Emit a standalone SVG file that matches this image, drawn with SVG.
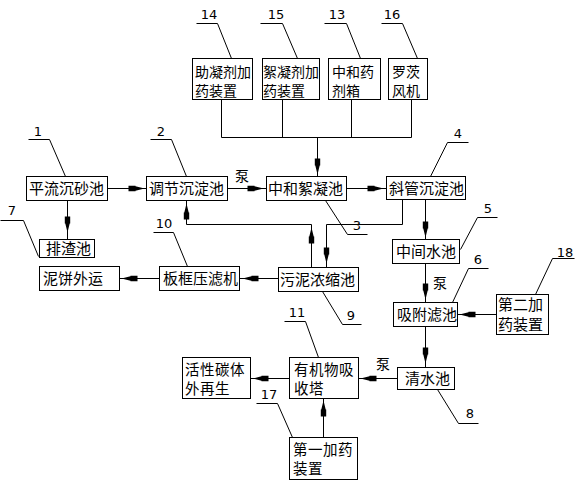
<svg xmlns="http://www.w3.org/2000/svg" xmlns:xlink="http://www.w3.org/1999/xlink" width="579" height="487" viewBox="0 0 579 487">
<style>
rect{fill:#fff;stroke:#000;stroke-width:1}
.c path,.lead path{fill:none;stroke:#000;stroke-width:1}
.t{font-family:"Noto Sans CJK SC","Noto Sans",sans-serif;font-size:15px;fill:#000}
.s{font-size:14px}
.m{font-size:14.5px;letter-spacing:0.5px}
.n{font-family:"DejaVu Sans","Liberation Sans",sans-serif;font-size:13px;fill:#000;text-anchor:middle}
.ah{fill:#000;stroke:none}
</style>
<defs>
<path id="ah" class="ah" d="M0,0 L-9,-2.2 L-9,-2.7 L-16,-2.7 L-16,2.7 L-9,2.7 L-9,2.2 Z"/>
</defs>
<rect x="0" y="0" width="579" height="487" style="stroke:none"/>
<g transform="translate(0.5 0.5)">
<g id="connectors" class="c">
<path d="M107,188 H146"/>
<path d="M67,200 V239"/>
<path d="M227,188 H266"/>
<path d="M221,99 V137 M282,99 V137 M351,99 V137 M411,99 V137 M221,137 H411 M317,137 V176"/>
<path d="M346,188 H386"/>
<path d="M425,199 V239"/>
<path d="M402,199 V224 H326 V267"/>
<path d="M311,267 V224 H186 V200"/>
<path d="M278,278 H239"/>
<path d="M159,278 H119"/>
<path d="M425,263 V302"/>
<path d="M496,314 H457"/>
<path d="M425,326 V367"/>
<path d="M397,378 H358"/>
<path d="M289,378 H250"/>
<path d="M323,437 V398"/>
<use xlink:href="#ah" transform="translate(144,188)"/>
<use xlink:href="#ah" transform="translate(263,188)"/>
<use xlink:href="#ah" transform="translate(383,188)"/>
<use xlink:href="#ah" transform="translate(317,174) rotate(90)"/>
<use xlink:href="#ah" transform="translate(67,232) rotate(90)"/>
<use xlink:href="#ah" transform="translate(425,237) rotate(90)"/>
<use xlink:href="#ah" transform="translate(425,299) rotate(90)"/>
<use xlink:href="#ah" transform="translate(425,363) rotate(90)"/>
<use xlink:href="#ah" transform="translate(186,203) rotate(-90)"/>
<use xlink:href="#ah" transform="translate(311,227) rotate(-90)"/>
<use xlink:href="#ah" transform="translate(326,263) rotate(90)"/>
<use xlink:href="#ah" transform="translate(242,278) rotate(180)"/>
<use xlink:href="#ah" transform="translate(121,278) rotate(180)"/>
<use xlink:href="#ah" transform="translate(459,314) rotate(180)"/>
<use xlink:href="#ah" transform="translate(360,378) rotate(180)"/>
<use xlink:href="#ah" transform="translate(252,378) rotate(180)"/>
<use xlink:href="#ah" transform="translate(323,400) rotate(-90)"/>
</g>
<g id="leaders" class="lead">
<path d="M28,139 H49 L65,176"/>
<path d="M150,139 H171 L186,176"/>
<path d="M0,220 H23 L38,256"/>
<path d="M153,232 H173 L187,266"/>
<path d="M196,23 H217 L231,58"/>
<path d="M260,23 H282 L297,58"/>
<path d="M324,23 H346 L360,58"/>
<path d="M381,23 H402 L417,58"/>
<path d="M468,142 H447 L430,176"/>
<path d="M325,200 L347,234 H367"/>
<path d="M497,217 H477 L460,249"/>
<path d="M488,268 H468 L452,302"/>
<path d="M574,258 H552 L535,294"/>
<path d="M322,291 L342,324 H361"/>
<path d="M284,321 H305 L318,357"/>
<path d="M256,403 H277 L292,437"/>
<path d="M437,389 L458,423 H478"/>
</g>
<g id="n1"><rect x="26" y="176" width="81" height="24"/></g>
<g id="n2"><rect x="146" y="176" width="81" height="24"/></g>
<g id="n3"><rect x="266" y="176" width="80" height="24"/></g>
<g id="n4"><rect x="386" y="176" width="79" height="23"/></g>
<g id="n14"><rect x="192" y="58" width="60" height="41"/></g>
<g id="n15"><rect x="262" y="58" width="57" height="41"/></g>
<g id="n13"><rect x="328" y="58" width="52" height="41"/></g>
<g id="n16"><rect x="388" y="58" width="39" height="41"/></g>
<g id="n7a"><rect x="39" y="239" width="55" height="18"/></g>
<g id="n7b"><rect x="39" y="266" width="80" height="24"/></g>
<g id="n10"><rect x="159" y="266" width="80" height="24"/></g>
<g id="n9"><rect x="278" y="267" width="80" height="24"/></g>
<g id="n5"><rect x="392" y="239" width="67" height="24"/></g>
<g id="n6"><rect x="393" y="302" width="64" height="24"/></g>
<g id="n18"><rect x="496" y="294" width="52" height="40"/></g>
<g id="n8"><rect x="397" y="367" width="57" height="22"/></g>
<g id="n11"><rect x="289" y="357" width="69" height="41"/></g>
<g id="n12"><rect x="182" y="357" width="68" height="41"/></g>
<g id="n17"><rect x="289" y="437" width="68" height="42"/></g>
</g>
<g id="texts">
<text class="t" x="29" y="194">平流沉砂池</text>
<text class="t" x="149" y="194">调节沉淀池</text>
<text class="t" x="268" y="194">中和絮凝池</text>
<text class="t" x="389" y="194">斜管沉淀池</text>
<text class="t s" x="195" y="77">助凝剂加<tspan x="195" dy="19">药装置</tspan></text>
<text class="t s" x="263" y="77">絮凝剂加<tspan x="263" dy="19">药装置</tspan></text>
<text class="t s" x="332" y="77">中和药<tspan x="332" dy="19">剂箱</tspan></text>
<text class="t s" x="392" y="77">罗茨<tspan x="392" dy="19">风机</tspan></text>
<text class="t" x="46" y="254">排渣池</text>
<text class="t" x="43" y="284">泥饼外运</text>
<text class="t" x="163" y="284">板框压滤机</text>
<text class="t" x="280" y="285">污泥浓缩池</text>
<text class="t" x="396" y="257">中间水池</text>
<text class="t" x="397" y="320">吸附滤池</text>
<text class="t" x="498" y="310">第二加<tspan x="498" dy="20">药装置</tspan></text>
<text class="t" x="405" y="384">清水池</text>
<text class="t m" x="294" y="374.5">有机物吸<tspan x="294" dy="19">收塔</tspan></text>
<text class="t m" x="185" y="374.5">活性碳体<tspan x="185" dy="19">外再生</tspan></text>
<text class="t m" x="293" y="454.5">第一加药<tspan x="293" dy="19">装置</tspan></text>
<text class="t s" x="235" y="181">泵</text>
<text class="t s" x="433" y="288">泵</text>
<text class="t s" x="376" y="369">泵</text>
<text class="n" x="38" y="136">1</text>
<text class="n" x="161" y="136">2</text>
<text class="n" x="12" y="215">7</text>
<text class="n" x="164" y="228">10</text>
<text class="n" x="209" y="19">14</text>
<text class="n" x="276" y="19">15</text>
<text class="n" x="337" y="19">13</text>
<text class="n" x="392" y="19">16</text>
<text class="n" x="458" y="138">4</text>
<text class="n" x="357" y="230">3</text>
<text class="n" x="488" y="213">5</text>
<text class="n" x="478" y="264">6</text>
<text class="n" x="565" y="257">18</text>
<text class="n" x="351" y="320">9</text>
<text class="n" x="297" y="317">11</text>
<text class="n" x="269" y="399">17</text>
<text class="n" x="470" y="418">8</text>
</g>
</svg>
